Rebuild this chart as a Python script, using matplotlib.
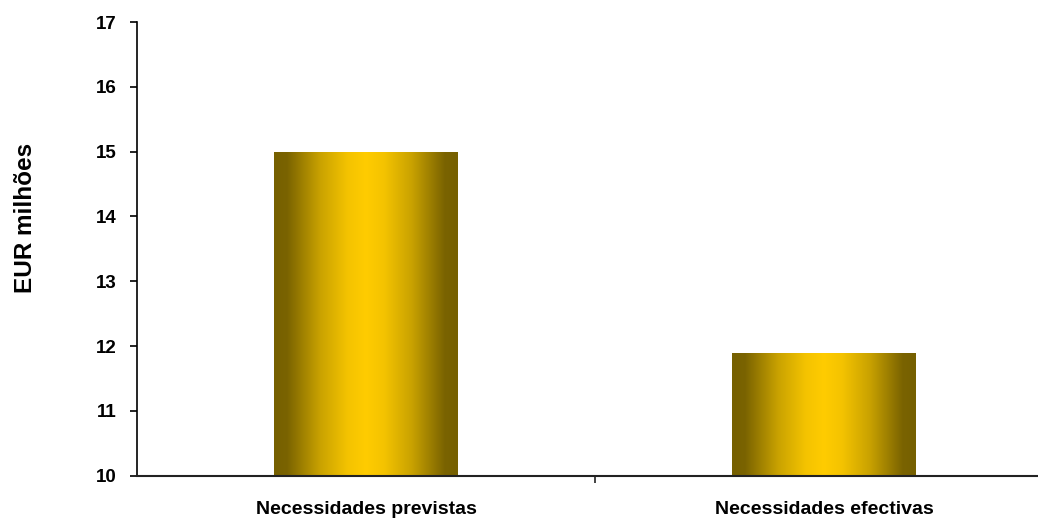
import numpy as np
import matplotlib
matplotlib.use("Agg")
import matplotlib.pyplot as plt
from matplotlib.colors import LinearSegmentedColormap

categories = ["Necessidades previstas", "Necessidades efectivas"]
values = [15.0, 11.9]
yticks = [10, 11, 12, 13, 14, 15, 16, 17]
ylabel = "EUR milhões"

plt.rcParams['font.family'] = ['Liberation Sans', 'DejaVu Sans']
plt.rcParams['font.weight'] = 'bold'

fig = plt.figure(figsize=(10.38, 5.18), dpi=100)
ax = fig.add_axes([137/1038, 42.3/518, 916/1038, 453.7/518])

cmap = LinearSegmentedColormap.from_list("gold", [
    (0.0, "#766000"), (0.07, "#7a6300"), (0.25, "#c9a200"),
    (0.40, "#f4c300"), (0.5, "#ffcc00"), (0.60, "#f4c300"),
    (0.75, "#c9a200"), (0.93, "#7a6300"), (1.0, "#766000")])

x = np.arange(len(categories))
bars = ax.bar(x, [v - 10 for v in values], bottom=10, width=0.4,
              color="none", edgecolor="none")
grad = np.linspace(0, 1, 256).reshape(1, -1)
for b in bars:
    x0, w = b.get_x(), b.get_width()
    y0, h = b.get_y(), b.get_height()
    im = ax.imshow(grad, cmap=cmap, aspect="auto",
                   extent=[x0, x0 + w, y0, y0 + h], interpolation="bilinear", zorder=2)
    im.set_clip_path(b)

ax.set_xlim(-0.5, 1.5)
ax.set_ylim(10, 17)
ax.set_yticks(yticks)
ax.set_yticklabels([str(t) for t in yticks], fontsize=13.5, fontweight='bold')
ax.set_xticks([0.5])
ax.set_xticklabels([""])
ax.tick_params(axis='x', length=5, width=1.2, direction='out', colors='#222222')
ax.tick_params(axis='y', length=5, width=1.2, direction='out', pad=10)
for i, c in enumerate(categories):
    ax.text(i, -0.055, c, transform=ax.get_xaxis_transform(), ha='center', va='top',
            fontsize=14, fontweight='bold')
ax.set_ylabel(ylabel, fontsize=17.5, fontweight='bold')
ax.yaxis.label.set_va('center')
ax.yaxis.set_label_coords(-0.122, 0.569)

for s in ['top', 'right']:
    ax.spines[s].set_visible(False)
ax.spines['left'].set_linewidth(1.2)
ax.spines['bottom'].set_linewidth(1.5)
ax.spines['bottom'].set_color('#222222')

fig.savefig("out.png", dpi=100)
